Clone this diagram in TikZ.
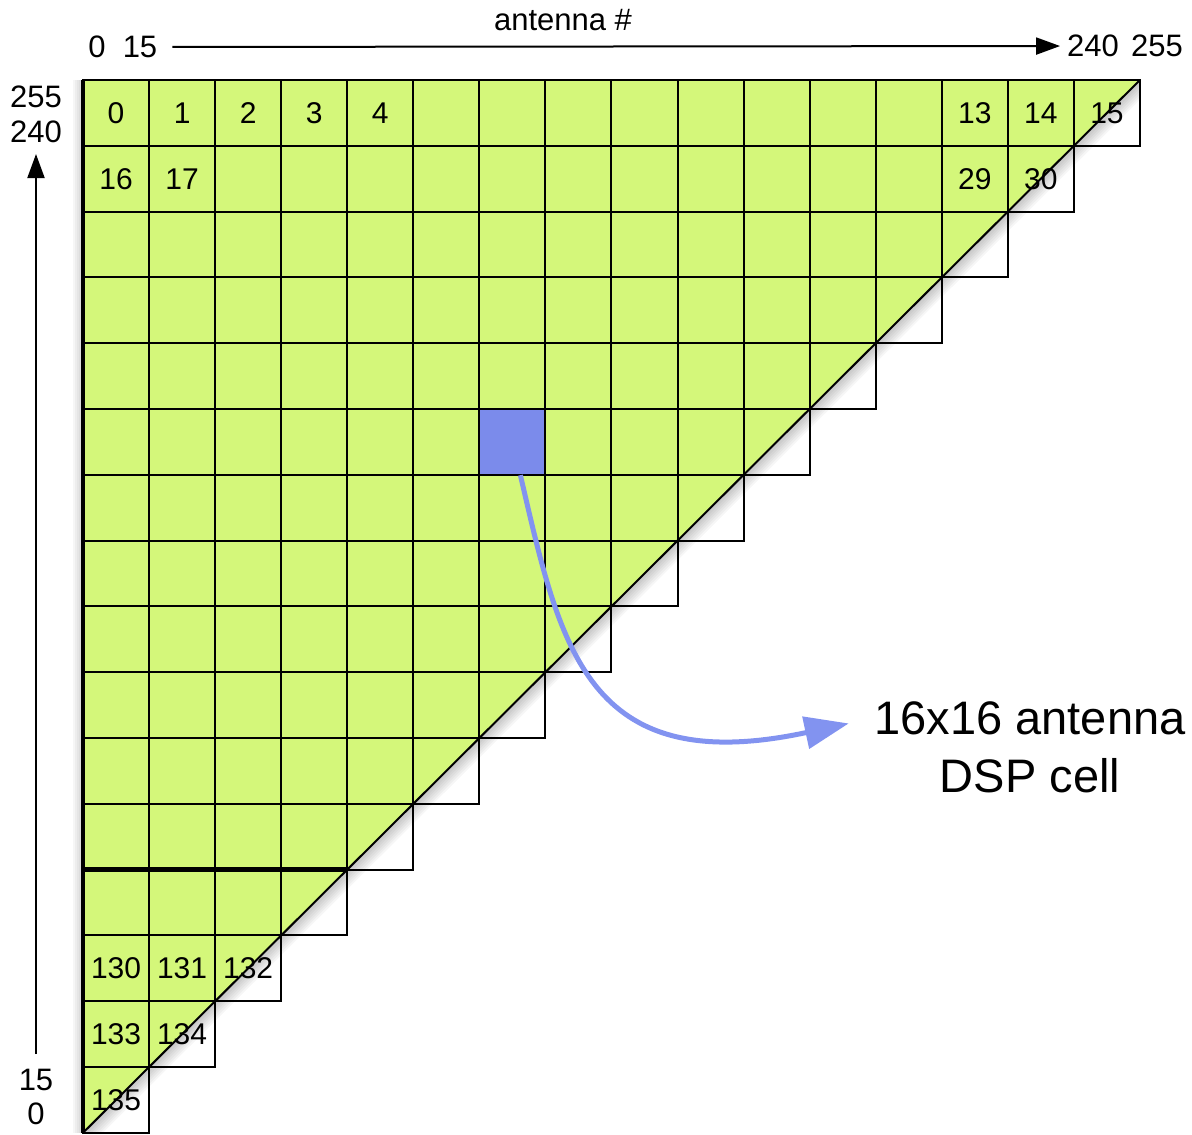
\documentclass[tikz,border=0pt]{standalone}
\usepackage{fontspec}
\setmainfont{Liberation Sans}
\usetikzlibrary{calc, arrows.meta, positioning}
\definecolor{cellgreen}{HTML}{D4F77A}
\definecolor{dspblue}{HTML}{7B8BEB}
\definecolor{arrowblue}{HTML}{8293F0}

\begin{document}
\begin{tikzpicture}[x=0.5pt, y=-0.5pt,
    cellnum/.style={font=\fontsize{15}{15}\selectfont, inner sep=0pt},
    axisnum/.style={font=\fontsize{15.5}{15.5}\selectfont},
    biglabel/.style={font=\fontsize{23.5}{28}\selectfont, inner sep=0pt},
    gridline/.style={line width=1pt},
    thickline/.style={line width=2.2pt},
    shadowline/.style={black, opacity=0.035},
    axisarrow/.style={line width=1pt, -{Triangle[length=12pt,width=8.5pt]}},
    dsparrow/.style={arrowblue, line width=2.5pt, -{Triangle[length=22pt,width=16pt]}}]
  %► Canvas (pixel units)
  \useasboundingbox (0,0) rectangle (1192,1134);

  %► Grid, in cell units
  \begin{scope}[shift={(83,80)}, x=33.03pt, y=-32.9pt]
    \fill[cellgreen] (0,0) -- (16,0) -- (0,16) -- cycle;   % triangle
    \node[fill=dspblue, minimum width=33.03pt, minimum height=32.9pt,
          inner sep=0pt] (dsp) at (6.5,5.5) {};             % DSP cell

    %► Soft shadow under the diagonal and the left edge
    \begin{scope}
      \clip (16,0) -- (16,16) -- (0,16) -- cycle;
      \foreach \w in {2,4,...,14}
        \draw[shadowline, line width=\w pt] (16,0) -- (0,16);
    \end{scope}
    \begin{scope}
      \clip (-1,0) rectangle (0,16);
      \foreach \w in {2,4,...,10}
        \draw[shadowline, line width=\w pt] (0,0) -- (0,16);
    \end{scope}

    %► Staircase of cells
    \foreach \r in {0,...,15} {
      \pgfmathtruncatemacro{\last}{15-\r}
      \foreach \c in {0,...,\last}
        \draw[gridline] (\c,\r) rectangle ++(1,1);
    }
    \draw[gridline] (16,0) -- (0,16);    % diagonal
    \draw[thickline] (0,0) -- (0,16);    % left edge
    \draw[thickline] (0,12) -- (4,12);   % block boundary

    %► Cell numbers
    \foreach \c/\r/\n in {0/0/0, 1/0/1, 2/0/2, 3/0/3, 4/0/4,
                          13/0/13, 14/0/14, 15/0/15,
                          0/1/16, 1/1/17, 13/1/29, 14/1/30,
                          0/13/130, 1/13/131, 2/13/132,
                          0/14/133, 1/14/134, 0/15/135}
      \node[cellnum] (n\n) at (\c+0.5,\r+0.5) {\n};
  \end{scope}

  %► Axis labels
  \node[axisnum] (title) at (563,20)  {antenna \#};
  \node[axisnum] (t0)    at (97,47)   {0};
  \node[axisnum] (t15)   at (140,47)  {15};
  \node[axisnum] (t240)  at (1093,46) {240};
  \node[axisnum] (t255)  at (1157,46) {255};
  \node[axisnum] (l255)  at (36,97)   {255};
  \node[axisnum] (l240)  at (36,132)  {240};
  \node[axisnum] (l15)   at (36,1080) {15};
  \node[axisnum] (l0)    at (36,1114) {0};
  \draw[axisarrow, shorten <=4pt] (t15) -- (t240);
  \draw[axisarrow, shorten <=4pt, shorten >=2pt] (l15) -- (l240);

  %► Callout
  \node[biglabel] (lbl1) at (1030,718) {16x16 antenna};
  \node[biglabel] (lbl2) at (1030,776) {DSP cell};
  \draw[dsparrow, shorten >=13pt] ([xshift=4pt]dsp.south)
    .. controls (560,645) and (585,780) .. (lbl1.west);
\end{tikzpicture}
\end{document}
